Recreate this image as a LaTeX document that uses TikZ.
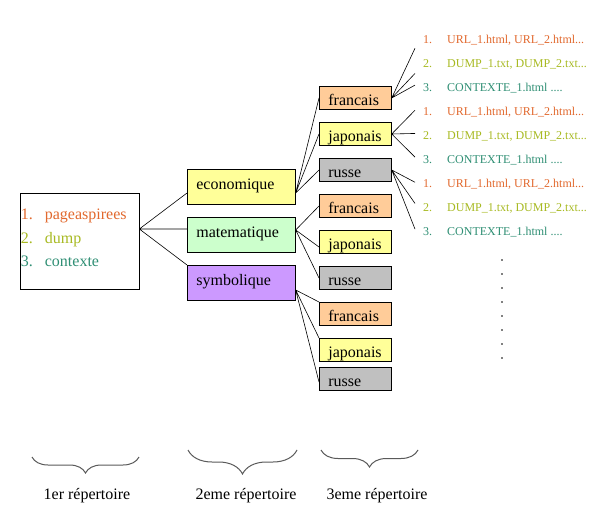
\documentclass[tikz,border=0pt]{standalone}
\usepackage{fontspec}
\setmainfont{Liberation Serif}
\usepackage{tikz}
\usepackage{xcolor}
\usetikzlibrary{
    positioning,
    decorations.pathreplacing
}
\definecolor{frcolor}{HTML}{FFCC99}
\definecolor{jacolor}{HTML}{FFFF99}
\definecolor{rucolor}{HTML}{C0C0C0}
\definecolor{ecocolor}{HTML}{FFFF99}
\definecolor{matcolor}{HTML}{CCFFCC}
\definecolor{symcolor}{HTML}{CC99FF}
\definecolor{urlcolor}{HTML}{E2692E}
\definecolor{dumpcolor}{HTML}{A8BA22}
\definecolor{ctxcolor}{HTML}{2F8F74}
\definecolor{bracecolor}{HTML}{5A5A5A}
\tikzset{
    dirbox/.style = {rectangle, draw, line width=0.7pt,
      inner xsep=9pt, inner ysep=0pt, text width=90pt, align=left,
      text height=20pt, text depth=15.3pt,
      font=\fontsize{16}{19}\selectfont}
  }
\tikzset{
    langbox/.style = {rectangle, draw, line width=0.7pt,
      inner xsep=9pt, inner ysep=0pt, text width=54pt, align=left,
      text height=19.3pt, text depth=4pt,
      font=\fontsize{16}{19}\selectfont}
  }
\tikzset{
    rootitem/.style = {anchor=base west, inner sep=0pt,
      font=\fontsize{16}{19}\selectfont}
  }
\tikzset{
    listitem/.style = {anchor=base west, inner sep=0pt,
      font=\fontsize{12}{14}\selectfont}
  }
\tikzset{
    branch/.style = {line width=0.6pt}
  }
\tikzset{
    repbrace/.style = {decorate, bracecolor, line width=1pt}
  }
\begin{document}
\begin{tikzpicture}[x=1pt,y=-1pt]

\fill[white] (0,0) rectangle (599,510);
\useasboundingbox (0,0) rectangle (599,510);

\node[rectangle, draw, line width=0.7pt,
      minimum width=119pt, minimum height=96pt]
  at (79.5,241) (root) {};

\node[rootitem, text=urlcolor] at ([shift={(1,27)}]root.north west)
  (root_pa) {\makebox[24pt][l]{1.}pageaspirees};
\node[rootitem, text=dumpcolor] at ([shift={(1,50.5)}]root.north west)
  (root_dump) {\makebox[24pt][l]{2.}dump};
\node[rootitem, text=ctxcolor] at ([shift={(1,74)}]root.north west)
  (root_ctx) {\makebox[24pt][l]{3.}contexte};



\node[dirbox, fill=ecocolor, anchor=north west]
  at (187,169) (eco) {economique};

\node[dirbox, fill=matcolor, below=12pt of eco]
  (mat) {matematique};

\node[dirbox, fill=symcolor, below=12pt of mat]
  (sym) {symbolique};

\draw[branch] ([yshift=12pt]root.east) -- ([yshift=-6pt]eco.west)
              ([yshift=12pt]root.east) -- ([yshift=6pt]mat.west)
              ([yshift=12pt]root.east) -- (sym.north west);



\node[langbox, fill=frcolor, anchor=north west]
  at (319,86) (eco_fr) {francais};
\node[langbox, fill=jacolor, below=12pt of eco_fr] (eco_ja) {japonais};
\node[langbox, fill=rucolor, below=12pt of eco_ja] (eco_ru) {russe};

\node[langbox, fill=frcolor, below=12pt of eco_ru] (mat_fr) {francais};
\node[langbox, fill=jacolor, below=12pt of mat_fr] (mat_ja) {japonais};
\node[langbox, fill=rucolor, below=12pt of mat_ja] (mat_ru) {russe};

\node[langbox, fill=frcolor, below=12pt of mat_ru] (sym_fr) {francais};
\node[langbox, fill=jacolor, below=12pt of sym_fr] (sym_ja) {japonais};
\node[langbox, fill=rucolor, below=5pt of sym_ja] (sym_ru) {russe};

\draw[branch] ([yshift=-6pt]eco.east) -- (eco_fr.west)
              ([yshift=-6pt]eco.east) -- (eco_ja.west)
              ([yshift=-6pt]eco.east) -- (eco_ru.west);

\draw[branch] ([yshift=5pt]mat.east) -- (mat_fr.west)
              ([yshift=5pt]mat.east) -- ([yshift=-5pt]mat_ja.west)
              ([yshift=5pt]mat.east) -- (mat_ru.west);

\draw[branch] ([yshift=-7pt]sym.east) -- (sym_fr.north west)
              ([yshift=-7pt]sym.east) -- (sym_ja.north west)
              ([yshift=-7pt]sym.east) -- ([yshift=-3pt]sym_ru.west);



\node[listitem, text=urlcolor] at (423,43.5)
  (eco_fr_url) {\makebox[24pt][l]{1.}URL\_1.html, URL\_2.html...};
\node[listitem, text=dumpcolor] at (423,67.5)
  (eco_fr_dump) {\makebox[24pt][l]{2.}DUMP\_1.txt, DUMP\_2.txt...};
\node[listitem, text=ctxcolor] at (423,91.5)
  (eco_fr_ctx) {\makebox[24pt][l]{3.}CONTEXTE\_1.html ....};

\node[listitem, text=urlcolor] at (423,115.5)
  (eco_ja_url) {\makebox[24pt][l]{1.}URL\_1.html, URL\_2.html...};
\node[listitem, text=dumpcolor] at (423,139.5)
  (eco_ja_dump) {\makebox[24pt][l]{2.}DUMP\_1.txt, DUMP\_2.txt...};
\node[listitem, text=ctxcolor] at (423,163.5)
  (eco_ja_ctx) {\makebox[24pt][l]{3.}CONTEXTE\_1.html ....};

\node[listitem, text=urlcolor] at (423,187.5)
  (eco_ru_url) {\makebox[24pt][l]{1.}URL\_1.html, URL\_2.html...};
\node[listitem, text=dumpcolor] at (423,211.5)
  (eco_ru_dump) {\makebox[24pt][l]{2.}DUMP\_1.txt, DUMP\_2.txt...};
\node[listitem, text=ctxcolor] at (423,235.5)
  (eco_ru_ctx) {\makebox[24pt][l]{3.}CONTEXTE\_1.html ....};

\draw[branch] (eco_fr.east) -- ([xshift=-8pt,yshift=-8pt]eco_fr_url.west)
              (eco_fr.east) -- ([xshift=-8pt,yshift=-9pt]eco_fr_dump.west)
              (eco_fr.east) -- ([xshift=-8pt,yshift=3pt]eco_fr_ctx.west);

\draw[branch] (eco_ja.east) -- ([xshift=-8pt,yshift=2pt]eco_ja_url.west)
              (eco_ja.east) -- ([xshift=-8pt,yshift=3pt]eco_ja_dump.west)
              (eco_ja.east) -- ([xshift=-8pt,yshift=3pt]eco_ja_ctx.west);

\draw[branch] (eco_ru.east) -- ([xshift=-8pt,yshift=2pt]eco_ru_url.west)
              (eco_ru.east) -- ([xshift=-8pt,yshift=5pt]eco_ru_dump.west)
              (eco_ru.east) -- ([xshift=-8pt,yshift=3pt]eco_ru_ctx.west);

% more lists below
\foreach \k in {0,...,7}
  \fill (502,{260+14*\k}) circle (0.9pt);



\coordinate (rep_one_l) at (32,457);
\coordinate (rep_one_r) at (139,457);
\coordinate (rep_two_l) at (188,450);
\coordinate (rep_two_r) at (297,450);
\coordinate (rep_three_l) at (321,450);
\coordinate (rep_three_r) at (418,450);

\draw[repbrace, decoration={brace, mirror, amplitude=16pt}]
  (rep_one_l) -- (rep_one_r);
\draw[repbrace, decoration={brace, mirror, amplitude=24pt}]
  (rep_two_l) -- (rep_two_r);
\draw[repbrace, decoration={brace, mirror, amplitude=17pt}]
  (rep_three_l) -- (rep_three_r);

\node[anchor=base, font=\fontsize{16}{19}\selectfont]
  at (87,499) (rep_one) {1er répertoire};
\node[anchor=base, font=\fontsize{16}{19}\selectfont]
  at (246,499) (rep_two) {2eme répertoire};
\node[anchor=base, font=\fontsize{16}{19}\selectfont]
  at (377,499) (rep_three) {3eme répertoire};

\end{tikzpicture}
\end{document}
